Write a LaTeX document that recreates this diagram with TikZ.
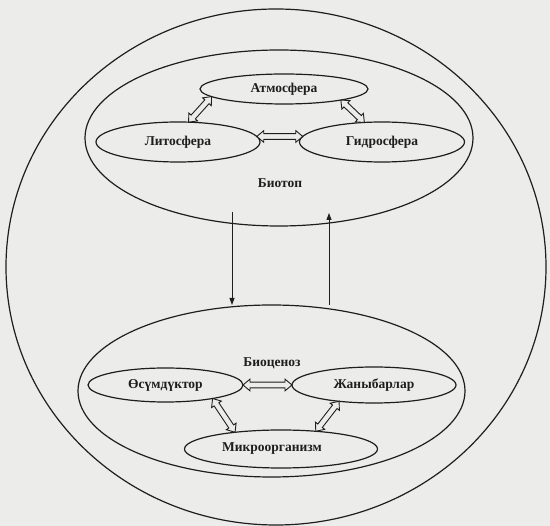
\documentclass[tikz,border=0pt]{standalone}
\usepackage{fontspec}
\setmainfont{Liberation Serif}
\usetikzlibrary{shapes.geometric,shapes.arrows,arrows.meta,calc}
\definecolor{bg}{RGB}{236,236,235}
\definecolor{ink}{RGB}{30,30,30}
\newcommand{\hollowarr}[2]{%
  \path let \p1=(#1), \p2=(#2),
    \n1={atan2(\y2-\y1,\x2-\x1)}, \n2={veclen(\x2-\x1,\y2-\y1)} in
    node[harrow, rotate=\n1, minimum height=\n2] at ($(#1)!0.5!(#2)$) {};}
\begin{document}
\begin{tikzpicture}[x=1pt,y=-1pt,
  every node/.style={font=\bfseries\fontsize{13.5}{16}\selectfont, text=ink},
  ell/.style={draw=ink, ellipse, inner sep=0pt, outer sep=0pt, line width=1.2pt},
  harrow/.style={draw=ink, fill=bg, double arrow, inner sep=0pt, outer sep=0pt,
    text height=2.4pt, text depth=2.4pt, text width=0pt,
    double arrow head extend=3pt, double arrow tip angle=80,
    line width=0.9pt, font=\tiny},
  thinarrow/.style={draw=ink, line width=0.9pt, -{Triangle[length=7pt,width=5pt]}}]
\fill[bg] (0,0) rectangle (550,526);
\useasboundingbox (0,0) rectangle (550,526);
% outer ellipses
\node[ell, minimum width=540pt, minimum height=516pt] (world) at (276,267) {};
\node[ell, minimum width=388pt, minimum height=176pt] (biotop) at (279,138) {};
\node[ell, minimum width=387pt, minimum height=172pt] (bioc) at (271.5,391) {};
% biotope parts
\node[ell, minimum width=168pt, minimum height=30pt] (atm) at (284,89) {Атмосфера};
\node[ell, minimum width=164pt, minimum height=40pt] (lit) at (178,142) {Литосфера};
\node[ell, minimum width=165pt, minimum height=40pt] (gid) at (382,142) {Гидросфера};
\node (biotoplbl) at (280,183) {Биотоп};
% biocenosis parts
\node (bioclbl) at (272,363) {Биоценоз};
\node[ell, minimum width=155pt, minimum height=34pt] (os) at (165.5,385) {Өсүмдүктор};
\node[ell, minimum width=164pt, minimum height=36pt] (zh) at (374,385) {Жаныбарлар};
\node[ell, minimum width=193pt, minimum height=38pt] (mik) at (281,449) {};
\node (miklbl) at (272,449) {Микроорганизм};
% hollow arrows
\hollowarr{atm.186}{lit.62}
\hollowarr{atm.349}{gid.132}
\hollowarr{lit.4}{gid.176}
\hollowarr{os.east}{zh.west}
\hollowarr{os.344}{mik.160}
\hollowarr{zh.205}{mik.27}
% vertical arrows
\coordinate (dstart) at (232,212);
\coordinate (uend) at (329,213);
\draw[thinarrow] (dstart) -- (dstart |- bioc.north);
\draw[thinarrow] (uend |- bioc.north) -- (uend);
\end{tikzpicture}
\end{document}
